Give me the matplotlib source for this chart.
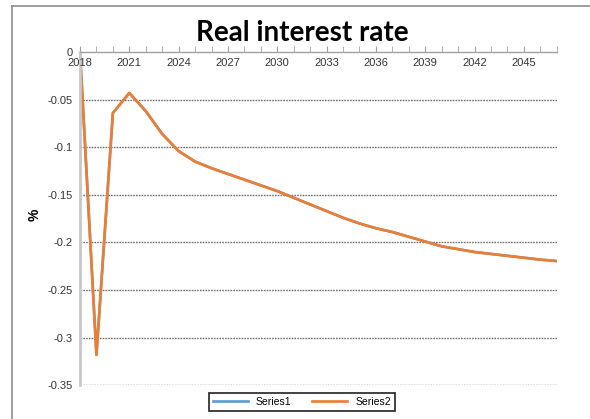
import matplotlib
matplotlib.use("Agg")
import matplotlib.pyplot as plt
from matplotlib.lines import Line2D

# --- data ---
years = list(range(2018, 2048))
rate = [0.0, -0.318, -0.064, -0.043, -0.062, -0.086, -0.104, -0.115,
        -0.122, -0.128, -0.134, -0.140, -0.146, -0.153, -0.160, -0.167,
        -0.174, -0.180, -0.185, -0.189, -0.194, -0.199, -0.204, -0.207,
        -0.210, -0.212, -0.214, -0.216, -0.218, -0.2195]
series1 = rate
series2 = rate
y_ticks = [0, -0.05, -0.1, -0.15, -0.2, -0.25, -0.3, -0.35]
y_labels = ["0", "-0.05", "-0.1", "-0.15", "-0.2", "-0.25", "-0.3", "-0.35"]
x_label_years = years[::3]

plt.rcParams["font.family"] = ["Liberation Sans", "DejaVu Sans"]

fig = plt.figure(figsize=(5.9, 4.19), dpi=100)
ax = fig.add_axes([0.1356, 0.0804, 0.9436 - 0.1356, 0.8757 - 0.0804])

# outer chart frame (only the left and top edges show)
fig.add_artist(Line2D([12 / 590, 12 / 590], [0, 1 - 6 / 419], color="#8c8c8c", lw=1.2))
fig.add_artist(Line2D([12 / 590, 1], [1 - 6 / 419, 1 - 6 / 419], color="#8c8c8c", lw=1.2))

ax.plot(years, series1, color="#5B9BD5", lw=1.9, label="Series1")
ax.plot(years, series2, color="#ED7D31", lw=1.9, label="Series2")

ax.set_xlim(2018, 2047)
ax.set_ylim(-0.35, 0)

# dotted horizontal gridlines
for v in y_ticks[1:]:
    ax.axhline(v, color="#6f6f6f", lw=1.0, ls=(0, (1.2, 0.8)), zorder=0)

for s in ["right", "bottom"]:
    ax.spines[s].set_visible(False)
ax.spines["left"].set_color("#c8c8c8")
ax.spines["left"].set_linewidth(2)
ax.spines["top"].set_color("#a0a0a0")
ax.spines["top"].set_linewidth(1)

ax.set_yticks(y_ticks)
ax.set_yticklabels(y_labels)
ax.tick_params(axis="y", length=0, labelsize=8, labelcolor="#333333", pad=5)

# category axis sits at zero (top); ticks every year, labels every third year
ax.xaxis.set_ticks_position("top")
ax.set_xticks(years, minor=True)
ax.set_xticks(x_label_years)
ax.set_xticklabels([str(y) for y in x_label_years])
ax.tick_params(axis="x", which="both", direction="out", length=4, color="#a0a0a0",
               top=True, bottom=False, labeltop=False, labelbottom=False)
for yr in x_label_years:
    ax.text(yr, -0.0115, str(yr), ha="center", va="center", fontsize=8, color="#333333")

fig.text(35 / 590, 1 - 215 / 419, "%", rotation=90, ha="center", va="center",
         fontsize=10, fontweight="bold")

fig.text(0.512, 1 - 33 / 419, "Real interest rate", ha="center", va="center",
         fontsize=20, fontweight="bold", family=["Lato", "DejaVu Sans"])

leg = fig.legend(loc="center", bbox_to_anchor=(0.512, 0.0406), ncol=2, fontsize=7.5,
                 frameon=True, fancybox=False, handlelength=3.3, columnspacing=2.0,
                 borderpad=0.4)
leg.get_frame().set_edgecolor("black")
leg.get_frame().set_linewidth(1.3)

fig.savefig("out.png", dpi=100)
